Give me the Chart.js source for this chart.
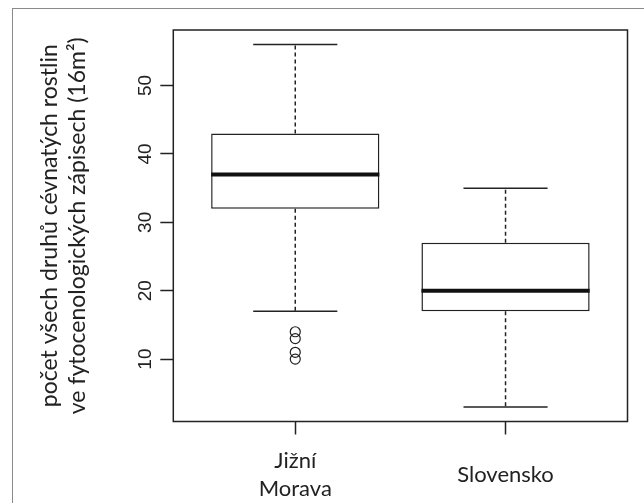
<!DOCTYPE html>
<html>
<head>
<meta charset="utf-8">
<script src="https://cdn.jsdelivr.net/npm/chart.js@4.4.1/dist/chart.umd.min.js"></script>
<style>
  html, body { margin: 0; padding: 0; background: #fff; }
  #wrap { position: relative; width: 644px; height: 503px; overflow: hidden; }
  #edge { position: absolute; left: 12px; top: 8px; right: -4px; bottom: -4px; border: 1.5px solid #8a8a8a; pointer-events: none; }
</style>
</head>
<body>
<div id="wrap">
  <canvas id="chart" width="644" height="503"></canvas>
  <div id="edge"></div>
</div>
<script>
const groups = [["Jižní", "Morava"], "Slovensko"];
const positions = [1, 2];
const lowerWhisker = [17, 3];
const q1 = [32, 17];
const median = [37, 20];
const q3 = [43, 27];
const upperWhisker = [56, 35];
const outliers = [[14, 13, 11, 10], []];
const yTicks = [10, 20, 30, 40, 50];
const yTitle = ["počet všech druhů cévnatých rostlin", "ve fytocenologických zápisech (16m²)"];

const ink = "#222";
const boxHalf = 0.4;
const capHalf = 0.2;

function seg(x1, y1, x2, y2, extra) {
  return Object.assign({
    type: "line",
    data: [{ x: x1, y: y1 }, { x: x2, y: y2 }],
    borderColor: ink,
    borderWidth: 1.5,
    pointRadius: 0,
    showLine: true,
    fill: false,
    order: 2,
  }, extra || {});
}

const datasets = [];
positions.forEach((p, i) => {
  // whiskers (dashed) and caps
  datasets.push(seg(p, q3[i], p, upperWhisker[i], { borderDash: [4, 3] }));
  datasets.push(seg(p, q1[i], p, lowerWhisker[i], { borderDash: [4, 3] }));
  datasets.push(seg(p - capHalf, upperWhisker[i], p + capHalf, upperWhisker[i]));
  datasets.push(seg(p - capHalf, lowerWhisker[i], p + capHalf, lowerWhisker[i]));
});
// boxes
datasets.push({
  type: "bar",
  data: positions.map((p, i) => ({ x: p, y: [q1[i], q3[i]] })),
  backgroundColor: "#fff",
  borderColor: ink,
  borderWidth: 1.5,
  borderSkipped: false,
  barPercentage: 1,
  categoryPercentage: 0.8,
  order: 3,
});
// medians
positions.forEach((p, i) => {
  datasets.push(seg(p - boxHalf, median[i], p + boxHalf, median[i], { borderWidth: 4, borderColor: "#111", order: 1 }));
});
// outliers
datasets.push({
  type: "scatter",
  data: positions.flatMap((p, i) => outliers[i].map(v => ({ x: p, y: v }))),
  pointStyle: "circle",
  pointRadius: 5,
  borderWidth: 1.2,
  borderColor: ink,
  backgroundColor: "rgba(0,0,0,0)",
  order: 0,
});

const framePlugin = {
  id: "frame",
  afterDatasetsDraw(chart) {
    const { ctx, chartArea: a } = chart;
    ctx.save();
    ctx.strokeStyle = ink;
    ctx.lineWidth = 1.5;
    ctx.strokeRect(a.left, a.top, a.right - a.left, a.bottom - a.top);
    ctx.restore();
  },
};

new Chart(document.getElementById("chart"), {
  type: "scatter",
  data: { datasets },
  plugins: [framePlugin],
  options: {
    responsive: false,
    animation: false,
    layout: { padding: { left: 0, top: 30, right: 16.5, bottom: 0 } },
    plugins: { legend: { display: false }, tooltip: { enabled: false } },
    scales: {
      x: {
        type: "linear",
        min: 0.42,
        max: 2.58,
        offset: false,
        afterBuildTicks: s => { s.ticks = positions.map(v => ({ value: v })); },
        afterFit: s => { s.height = 81.5; },
        border: { display: false },
        grid: { offset: false, drawOnChartArea: false, tickLength: 13, tickColor: ink, tickWidth: 1.5 },
        ticks: {
          callback: (v, i) => groups[i],
          autoSkip: false,
          maxRotation: 0,
          crossAlign: "center",
          padding: 26,
          color: ink,
          font: { family: "Lato", size: 22, lineHeight: 1.3 },
        },
      },
      y: {
        min: 0.88,
        max: 58.12,
        afterBuildTicks: s => { s.ticks = yTicks.map(v => ({ value: v })); },
        afterFit: s => { s.width = 173.3; },
        border: { display: false },
        grid: { drawOnChartArea: false, tickLength: 13, tickColor: ink, tickWidth: 1.5 },
        ticks: {
          minRotation: 90,
          maxRotation: 90,
          crossAlign: "center",
          padding: 4,
          color: ink,
          font: { family: "Liberation Sans", size: 19 },
        },
        title: {
          display: true,
          text: yTitle,
          color: ink,
          padding: { top: 36, bottom: 0 },
          font: { family: "Lato", size: 23, lineHeight: 1.2 },
        },
      },
    },
  },
});
</script>
</body>
</html>
